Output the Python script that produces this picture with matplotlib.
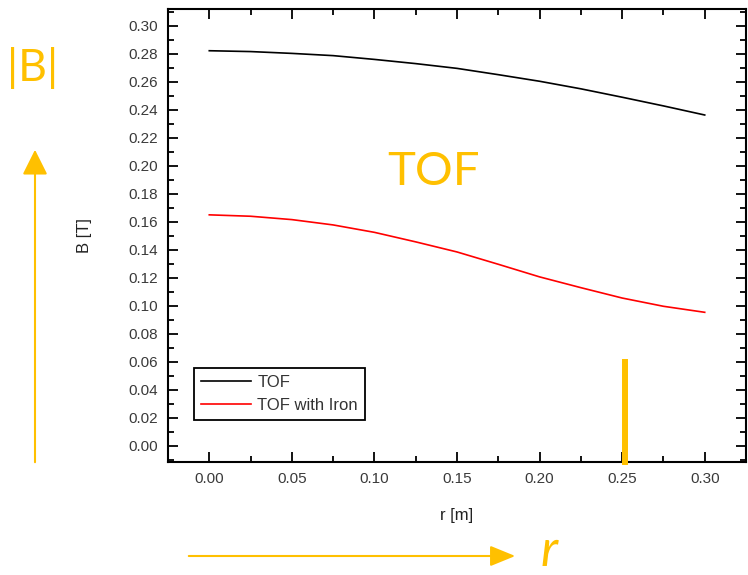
import numpy as np
import matplotlib
matplotlib.use("Agg")
import matplotlib.pyplot as plt
from matplotlib.ticker import MultipleLocator, FormatStrFormatter
from matplotlib.patches import FancyArrowPatch
from matplotlib.lines import Line2D

# values
r = [0.000, 0.025, 0.050, 0.075, 0.100, 0.125, 0.150,
     0.175, 0.200, 0.225, 0.250, 0.275, 0.300]
b_tof = [0.2822, 0.2816, 0.2803, 0.2787, 0.2760, 0.2730, 0.2696,
         0.2651, 0.2604, 0.2550, 0.2490, 0.2428, 0.2363]
b_iron = [0.1650, 0.1640, 0.1616, 0.1578, 0.1525, 0.1457, 0.1385,
          0.1297, 0.1207, 0.1130, 0.1056, 0.0997, 0.0954]
labels = ["TOF", "TOF with Iron"]

W, H = 748, 575
GOLD = "#FFC000"
plt.rcParams["font.family"] = ["Liberation Sans", "DejaVu Sans"]


def px(x, y):
    # pixel position (from top left) -> figure fraction
    return x / W, 1 - y / H


fig = plt.figure(figsize=(W / 100, H / 100), dpi=100)
ax = fig.add_axes([168 / W, 1 - 462 / H, (746 - 168) / W, (462 - 9) / H])

ax.plot(r, b_tof, color="black", lw=1.2, label=labels[0])
ax.plot(r, b_iron, color="red", lw=1.2, label=labels[1])

ax.set_xlim(-0.025, 0.325)
ax.set_ylim(-0.0115, 0.312)
ax.xaxis.set_major_locator(MultipleLocator(0.05))
ax.xaxis.set_minor_locator(MultipleLocator(0.025))
ax.yaxis.set_major_locator(MultipleLocator(0.02))
ax.yaxis.set_minor_locator(MultipleLocator(0.01))
ax.xaxis.set_major_formatter(FormatStrFormatter("%.2f"))
ax.yaxis.set_major_formatter(FormatStrFormatter("%.2f"))
ax.tick_params(which="both", direction="in", top=True, right=True, width=1.3)
ax.tick_params(which="major", length=7, labelsize=11, labelcolor="#3a3a3a", pad=7)
ax.tick_params(which="minor", length=4)
for s in ax.spines.values():
    s.set_linewidth(1.5)

ax.text(-0.145, 0.5, "B [T]", transform=ax.transAxes, rotation=90,
        ha="center", va="center", fontsize=12, color="#222222")
ax.text(0.5, -0.117, "r [m]", transform=ax.transAxes,
        ha="center", va="center", fontsize=12, color="#222222")

leg = ax.legend(loc="upper left", bbox_to_anchor=(0.045, 0.2075), borderaxespad=0,
                fontsize=12, fancybox=False, edgecolor="black", framealpha=1,
                handlelength=3.0, handletextpad=0.4, borderpad=0.4, labelspacing=0.5)
leg.get_frame().set_linewidth(1.3)
for t in leg.get_texts():
    t.set_color("#333333")

# yellow overlay annotations
fig.text(*px(33, 68), "|B|", color=GOLD, fontsize=32, family="Lato",
         ha="center", va="center")
fig.text(*px(434, 172), "TOF", color=GOLD, fontsize=34, family="Lato",
         ha="center", va="center")
fig.text(*px(549, 552), "r", color=GOLD, fontsize=36, family="Lato",
         style="italic", ha="center", va="center")

up = FancyArrowPatch(px(35, 465), px(35, 147), transform=fig.transFigure,
                     arrowstyle="-|>,head_length=1.1,head_width=0.55",
                     mutation_scale=14, color=GOLD, lw=1.5)
right = FancyArrowPatch(px(186, 556), px(518, 556), transform=fig.transFigure,
                        arrowstyle="-|>,head_length=1.1,head_width=0.45",
                        mutation_scale=14, color=GOLD, lw=1.5)
fig.patches.extend([up, right])
fig.lines.append(Line2D([625 / W, 625 / W], [1 - 465 / H, 1 - 359 / H],
                        transform=fig.transFigure, color=GOLD, lw=4.3,
                        solid_capstyle="butt"))

fig.savefig("out.png", dpi=100)
